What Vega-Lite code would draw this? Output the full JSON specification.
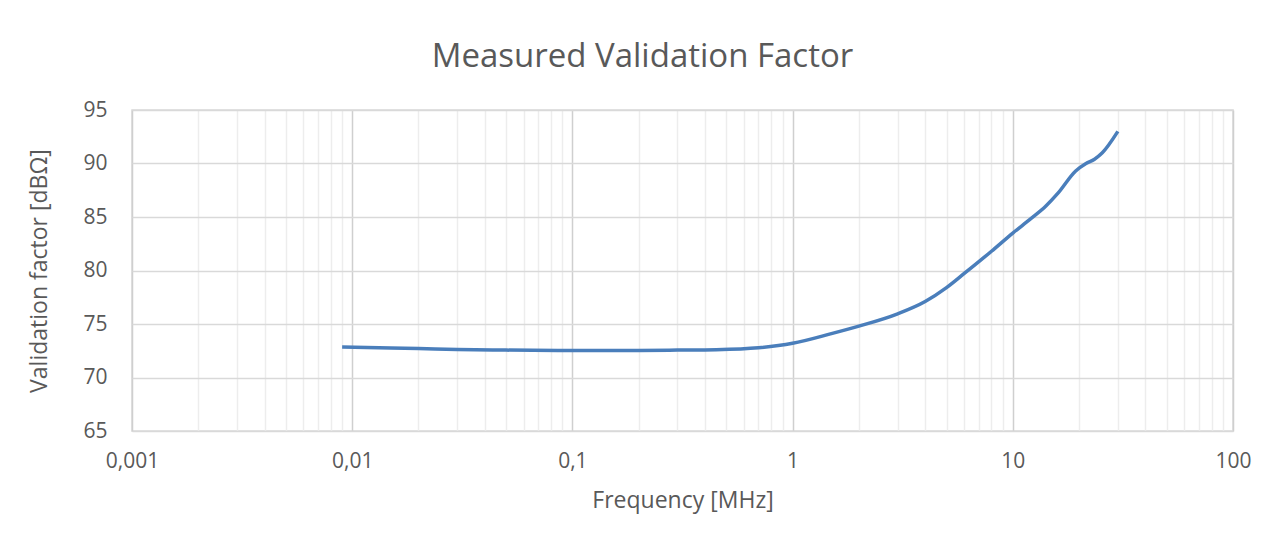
{
  "$schema": "https://vega.github.io/schema/vega-lite/v6.json",
  "autosize": {"type": "none"},
  "width": 1101,
  "height": 321,
  "padding": {"left": 132, "top": 110, "right": 43, "bottom": 111},
  "background": "white",
  "title": {
    "text": "Measured Validation Factor",
    "font": "Open Sans",
    "fontSize": 33,
    "fontWeight": "normal",
    "color": "#595959",
    "anchor": "middle",
    "dx": -40,
    "offset": 25
  },
  "config": {
    "font": "Open Sans",
    "view": {"stroke": "#d9d9d9", "strokeWidth": 1.5}
  },
  "data": {
    "values": [
      {"f": 0.009, "v": 72.85},
      {"f": 0.015, "v": 72.75},
      {"f": 0.02, "v": 72.7},
      {"f": 0.03, "v": 72.62},
      {"f": 0.05, "v": 72.56},
      {"f": 0.1, "v": 72.52},
      {"f": 0.2, "v": 72.53},
      {"f": 0.3, "v": 72.56},
      {"f": 0.45, "v": 72.6},
      {"f": 0.7, "v": 72.78},
      {"f": 1, "v": 73.2},
      {"f": 1.5, "v": 74.1},
      {"f": 2, "v": 74.8},
      {"f": 3, "v": 75.95},
      {"f": 4, "v": 77.1},
      {"f": 5, "v": 78.4},
      {"f": 6, "v": 79.7},
      {"f": 8, "v": 81.8},
      {"f": 10, "v": 83.5},
      {"f": 12, "v": 84.8},
      {"f": 14.1, "v": 86.0},
      {"f": 16, "v": 87.2},
      {"f": 19.3, "v": 89.3},
      {"f": 21.5, "v": 90.0},
      {"f": 23.5, "v": 90.4},
      {"f": 25.5, "v": 91.0},
      {"f": 30, "v": 93.0}
    ]
  },
  "encoding": {
    "y": {
      "field": "v",
      "type": "quantitative",
      "scale": {"domain": [65, 95], "nice": false, "zero": false},
      "axis": {
        "values": [65, 70, 75, 80, 85, 90, 95],
        "title": "Validation factor [dBΩ]",
        "titleFont": "Open Sans",
        "titleFontSize": 23,
        "titleFontWeight": "normal",
        "titleColor": "#595959",
        "titlePadding": 31,
        "labelFont": "Open Sans",
        "labelFontSize": 21,
        "labelColor": "#595959",
        "labelPadding": 25,
        "ticks": false,
        "tickSize": 0,
        "domain": false,
        "grid": true,
        "gridColor": "#d9d9d9",
        "gridWidth": 1.5
      }
    }
  },
  "layer": [
    {
      "mark": {"type": "line", "strokeOpacity": 0},
      "encoding": {
        "x": {
          "field": "f",
          "type": "quantitative",
          "scale": {"type": "log", "domain": [0.001, 100], "nice": false},
          "axis": {
            "orient": "bottom",
            "values": [0.002, 0.003, 0.004, 0.005, 0.006, 0.007, 0.008, 0.009,
                       0.02, 0.03, 0.04, 0.05, 0.06, 0.07, 0.08, 0.09,
                       0.2, 0.3, 0.4, 0.5, 0.6, 0.7, 0.8, 0.9,
                       2, 3, 4, 5, 6, 7, 8, 9,
                       20, 30, 40, 50, 60, 70, 80, 90],
            "labels": false,
            "ticks": false,
            "tickSize": 0,
            "domain": false,
            "title": null,
            "grid": true,
            "gridColor": "#ededed",
            "gridWidth": 1.5
          }
        }
      }
    },
    {
      "mark": {"type": "line", "color": "#4a7ebb", "strokeWidth": 3.5, "interpolate": "monotone"},
      "encoding": {
        "x": {
          "field": "f",
          "type": "quantitative",
          "scale": {"type": "log", "domain": [0.001, 100], "nice": false},
          "axis": {
            "orient": "bottom",
            "values": [0.001, 0.01, 0.1, 1, 10, 100],
            "labelExpr": "replace(toString(datum.value), '.', ',')",
            "labelFlush": false,
            "title": "Frequency [MHz]",
            "titleFont": "Open Sans",
            "titleFontSize": 23,
            "titleFontWeight": "normal",
            "titleColor": "#595959",
            "titlePadding": 18,
            "labelFont": "Open Sans",
            "labelFontSize": 21,
            "labelColor": "#595959",
            "labelPadding": 19,
            "ticks": false,
            "tickSize": 0,
            "domain": false,
            "grid": true,
            "gridColor": "#cfcfcf",
            "gridWidth": 1.5
          }
        }
      }
    }
  ],
  "resolve": {"axis": {"x": "independent"}}
}
